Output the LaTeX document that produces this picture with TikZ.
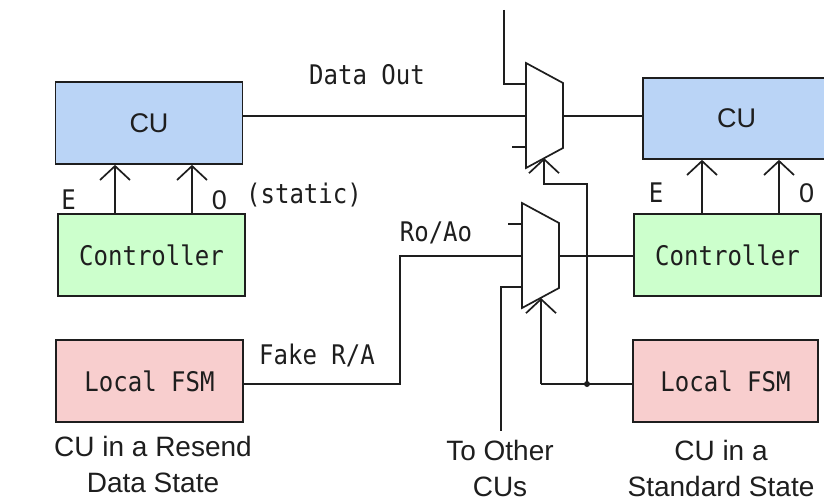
\documentclass[tikz,border=0pt]{standalone}
\usepackage{fontspec}
\setmainfont{Liberation Sans}
\newfontfamily\gothic[FakeStretch=0.89]{DejaVu Sans Mono}
\usetikzlibrary{arrows.meta}
\definecolor{cublue}{RGB}{186,212,246}
\definecolor{ctrlgreen}{RGB}{204,255,204}
\definecolor{fsmpink}{RGB}{248,206,206}
\definecolor{ink}{RGB}{30,30,30}

\begin{document}
\begin{tikzpicture}[x=1pt, y=-1pt, line width=1.7pt, draw=ink, text=ink,
    box/.style = {draw, minimum width=187pt, minimum height=82pt, inner sep=0pt, font=\gothic\fontsize{27}{32}\selectfont},
    cu/.style = {box, fill=cublue, font=\fontsize{27}{32}\selectfont},
    ctrl/.style = {box, fill=ctrlgreen},
    fsm/.style = {box, fill=fsmpink},
    lbl/.style = {inner sep=0pt, font=\gothic\fontsize{27}{32}\selectfont},
    captext/.style = {inner sep=0pt, align=center, font=\fontsize{28}{36}\selectfont},
    sig/.style = {-{Straight Barb[length=14pt,width=30pt]}},
    mux/.style = {draw, fill=white, line join=miter}]
    \useasboundingbox (0,0) rectangle (824,503);
    \clip (0,0) rectangle (824,503);

    %left CU
    \node[cu] (LCU) at (149,123) {CU};
    \node[ctrl] (LCtrl) at (151.5,255) {Controller};
    \node[fsm] (LFSM) at (149.5,381) {Local FSM};
    %right CU
    \node[cu, minimum height=81pt] (RCU) at (736.5,118.5) {CU};
    \node[ctrl] (RCtrl) at (727.5,255) {Controller};
    \node[fsm, minimum width=185pt] (RFSM) at (725.5,381) {Local FSM};

    %muxes
    \draw[mux] (526,63) -- (563,83) -- (563,148) -- (526,168) -- cycle;
    \coordinate (muxAin1) at (526,84);
    \coordinate (muxAin2) at (526,116);
    \coordinate (muxAin3) at (526,147);
    \coordinate (muxAout) at (563,116);
    \coordinate (muxAsel) at (544,158);
    \draw[mux] (522,203) -- (559,223) -- (559,288) -- (522,308) -- cycle;
    \coordinate (muxBin1) at (522,224);
    \coordinate (muxBin2) at (522,256);
    \coordinate (muxBin3) at (522,287);
    \coordinate (muxBout) at (559,256);
    \coordinate (muxBsel) at (541,298);

    %bends
    \coordinate (topin) at (504,10);
    \coordinate (stubA) at (512,147);
    \coordinate (stubB) at (508,224);
    \coordinate (dot) at (587,384);
    \coordinate (bendA) at (587,184);
    \coordinate (bendB) at (541,384);
    \coordinate (rabend) at (400,256);
    \coordinate (other) at (501,431);

    %data path
    \draw (LCU.east |- muxAin2) -- (muxAin2);
    \draw (muxAout) -- (RCU.west |- muxAout);
    \draw (topin) |- (muxAin1);
    \draw (stubA) -- (muxAin3);
    %request / ack path
    \draw (LFSM.east |- dot) -| (rabend) -- (muxBin2);
    \draw (stubB) -- (muxBin1);
    \draw (muxBin3) -| (other);
    \draw (muxBout) -- (RCtrl.west |- muxBout);
    %select lines
    \draw (RFSM.west |- dot) -- (bendB);
    \draw[sig] (dot) -- (bendA) -| (muxAsel);
    \draw[sig] (bendB) -- (muxBsel);
    \fill[ink] (dot) circle (3pt);

    %controller to CU
    \foreach \x in {115,192}
        \draw[sig] (LCtrl.north -| \x,0) -- (LCU.south -| \x,0);
    \foreach \x in {702,779}
        \draw[sig] (RCtrl.north -| \x,0) -- (RCU.south -| \x,0);

    %labels
    \node[lbl] (LE) at (68.5,200) {E};
    \node[lbl, font=\fontsize{27}{32}\selectfont] (L0) at (219.5,200) {0};
    \node[lbl] (static) at (304,195) {(static)};
    \node[lbl] (RE) at (656,193) {E};
    \node[lbl, font=\fontsize{27}{32}\selectfont] (R0) at (806.5,193) {0};
    \node[lbl] (dataout) at (367,75) {Data Out};
    \node[lbl] (roao) at (436,233) {Ro/Ao};
    \node[lbl] (fakera) at (317,355) {Fake R/A};

    %captions
    \node[captext] (capL) at (153,464) {CU in a Resend\\Data State};
    \node[captext] (capM) at (500,468) {To Other\\CUs};
    \node[captext] (capR) at (721,468) {CU in a\\Standard State};
\end{tikzpicture}
\end{document}
